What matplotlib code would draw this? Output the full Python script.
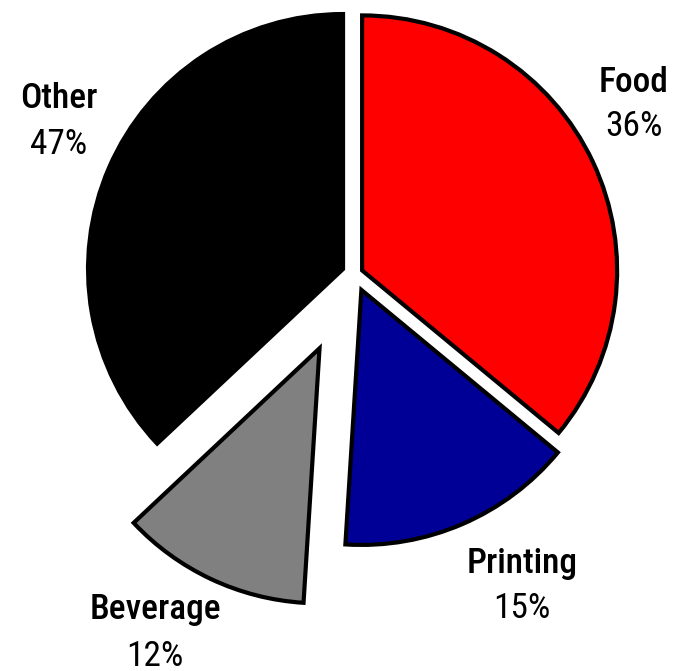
import matplotlib
matplotlib.use("Agg")
import matplotlib.pyplot as plt

categories = ["Food", "Printing", "Beverage", "Other"]
values = [36, 15, 12, 37]
pct_labels = ["36%", "15%", "12%", "47%"]
colors = ["#FF0000", "#000096", "#808080", "#000000"]
explode = [0.033, 0.068, 0.322, 0.049]

fam = ["Roboto Condensed", "DejaVu Sans"]

W, H = 686, 671
fig = plt.figure(figsize=(W / 100, H / 100), dpi=100)
ax = fig.add_axes([0, 0, 1, 1])
cx, cy, r = 354.5, H - 274.0, 255
ax.pie(values, colors=colors, explode=[e * r for e in explode], startangle=90,
       counterclock=False, center=(cx, cy), radius=r,
       wedgeprops=dict(edgecolor="black", linewidth=3, joinstyle="miter"))
ax.set_xlim(0, W)
ax.set_ylim(0, H)
ax.set_aspect("equal")
ax.axis("off")

label_pos = {"Food": (634, 83, 127), "Printing": (522, 563, 608),
             "Beverage": (155, 610, 656), "Other": (59, 99, 144)}
for cat, pct in zip(categories, pct_labels):
    x, y1, y2 = label_pos[cat]
    ax.text(x, H - y1, cat, ha="center", va="center", fontsize=25.5,
            fontweight=500, family=fam)
    ax.text(x, H - y2, pct, ha="center", va="center", fontsize=25.5, family=fam)

fig.savefig("out.png", dpi=100)
